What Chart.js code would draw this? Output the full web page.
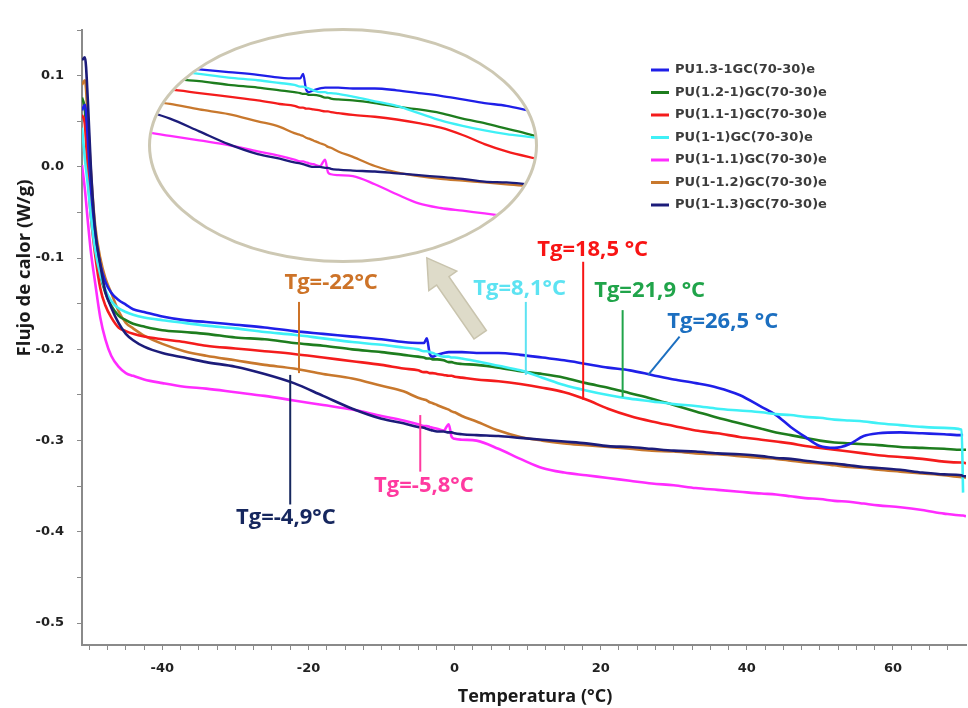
<!DOCTYPE html>
<html>
<head>
<meta charset="utf-8">
<script src="https://cdn.jsdelivr.net/npm/chart.js@4.4.1/dist/chart.umd.min.js"></script>
<style>
  html, body { margin: 0; padding: 0; background: #fff; }
  #wrap { position: relative; width: 968px; height: 708px; }
  #inset {
    position: absolute; left: 148px; top: 28px; width: 390px; height: 235px;
    border: 3px solid #cdc8b3; border-radius: 50%; overflow: hidden;
    box-sizing: border-box; background: #fff;
  }
</style>
</head>
<body>
<div id="wrap">
  <canvas id="chart" width="968" height="708"></canvas>
  <div id="inset"><canvas id="zoom" width="384" height="229"></canvas></div>
</div>
<script>
// temperature grid (°C) shared by every curve
const temps = [-51, -50.6, -50.2, -49.8, -49.2, -48.5, -47.8, -47, -46, -45, -44, -42.5, -40, -37, -34,
    -30, -26, -22, -18, -14, -10, -7, -5, -4.2, -3.8, -3.4, -3, -2.4, -1.5, -0.8, -0.4, 0, 1, 3, 6, 9,
    12, 15, 18, 21, 24, 27, 30, 33, 36, 39, 42, 44, 46, 48, 50, 52, 54, 56, 58, 61, 64, 67, 69.4, 69.6, 70];

// heat flow (W/g)
const blueHF = [0.062, 0.068, 0.030, -0.020, -0.074, -0.107, -0.126, -0.138, -0.146, -0.151, -0.156, -0.159,
    -0.164, -0.168, -0.170, -0.173, -0.176, -0.180, -0.183, -0.186, -0.189, -0.192, -0.193, -0.193, -0.188,
    -0.205, -0.208, -0.206, -0.204, -0.203, -0.203, -0.203, -0.203, -0.204, -0.204, -0.206, -0.209, -0.212,
    -0.216, -0.220, -0.223, -0.228, -0.233, -0.237, -0.242, -0.250, -0.263, -0.272, -0.285, -0.296, -0.306,
    -0.308, -0.304, -0.295, -0.292, -0.291, -0.292, -0.293, -0.294, -0.294, null];
const greenHF = [0.076, 0.062, 0.008, -0.036, -0.085, -0.118, -0.138, -0.152, -0.163, -0.168, -0.172, -0.175,
    -0.179, -0.181, -0.183, -0.187, -0.189, -0.193, -0.196, -0.200, -0.203, -0.206, -0.208, -0.209, -0.210,
    -0.210, -0.211, -0.211, -0.212, -0.214, -0.214, -0.215, -0.216, -0.217, -0.220, -0.224, -0.227, -0.231,
    -0.237, -0.242, -0.248, -0.254, -0.261, -0.268, -0.275, -0.281, -0.287, -0.291, -0.294, -0.297, -0.300,
    -0.302, -0.303, -0.304, -0.305, -0.307, -0.308, -0.309, -0.310, -0.310, -0.310];
const redHF = [0.057, 0.046, -0.009, -0.053, -0.096, -0.133, -0.152, -0.165, -0.176, -0.180, -0.183, -0.186,
    -0.189, -0.192, -0.196, -0.199, -0.202, -0.205, -0.209, -0.213, -0.217, -0.221, -0.223, -0.225, -0.225,
    -0.226, -0.226, -0.227, -0.228, -0.229, -0.229, -0.230, -0.231, -0.233, -0.235, -0.238, -0.242, -0.247,
    -0.255, -0.265, -0.273, -0.279, -0.284, -0.289, -0.292, -0.296, -0.299, -0.301, -0.303, -0.306, -0.308,
    -0.310, -0.312, -0.314, -0.316, -0.318, -0.320, -0.323, -0.324, -0.324, -0.325];
const cyanHF = [0.043, 0.008, -0.020, -0.053, -0.091, -0.118, -0.135, -0.147, -0.155, -0.159, -0.162, -0.165,
    -0.168, -0.171, -0.174, -0.177, -0.181, -0.184, -0.188, -0.192, -0.195, -0.198, -0.200, -0.202, -0.202,
    -0.203, -0.204, -0.206, -0.208, -0.208, -0.209, -0.209, -0.210, -0.213, -0.218, -0.223, -0.231, -0.239,
    -0.245, -0.250, -0.254, -0.257, -0.260, -0.262, -0.265, -0.267, -0.269, -0.271, -0.272, -0.274, -0.275,
    -0.277, -0.278, -0.279, -0.281, -0.283, -0.285, -0.286, -0.288, -0.357, null];
const magentaHF = [0.002, -0.025, -0.060, -0.092, -0.127, -0.165, -0.189, -0.207, -0.219, -0.226, -0.229, -0.233,
    -0.237, -0.241, -0.243, -0.247, -0.251, -0.256, -0.261, -0.266, -0.273, -0.278, -0.282, -0.284, -0.284,
    -0.285, -0.286, -0.287, -0.289, -0.282, -0.296, -0.298, -0.299, -0.300, -0.309, -0.320, -0.330, -0.335,
    -0.338, -0.341, -0.344, -0.347, -0.349, -0.352, -0.354, -0.356, -0.358, -0.359, -0.361, -0.363, -0.364,
    -0.366, -0.367, -0.369, -0.371, -0.373, -0.376, -0.380, -0.382, -0.382, -0.383];
const orangeHF = [0.090, 0.095, 0.051, -0.003, -0.064, -0.100, -0.122, -0.138, -0.158, -0.171, -0.177, -0.185,
    -0.194, -0.202, -0.207, -0.212, -0.217, -0.221, -0.227, -0.232, -0.240, -0.246, -0.253, -0.255, -0.256,
    -0.258, -0.259, -0.261, -0.264, -0.266, -0.268, -0.269, -0.273, -0.279, -0.289, -0.296, -0.300, -0.303,
    -0.305, -0.307, -0.309, -0.311, -0.312, -0.314, -0.315, -0.317, -0.319, -0.320, -0.322, -0.324, -0.325,
    -0.327, -0.329, -0.330, -0.332, -0.334, -0.336, -0.338, -0.340, -0.340, -0.341];
const navyHF = [0.117, 0.120, 0.073, 0.002, -0.069, -0.107, -0.137, -0.154, -0.171, -0.183, -0.190, -0.197,
    -0.204, -0.209, -0.214, -0.219, -0.227, -0.237, -0.251, -0.265, -0.276, -0.281, -0.285, -0.286, -0.287,
    -0.288, -0.289, -0.290, -0.290, -0.291, -0.291, -0.292, -0.293, -0.294, -0.295, -0.297, -0.299, -0.301,
    -0.303, -0.306, -0.307, -0.309, -0.311, -0.312, -0.314, -0.315, -0.317, -0.319, -0.320, -0.322, -0.324,
    -0.325, -0.327, -0.329, -0.330, -0.332, -0.335, -0.337, -0.338, -0.339, -0.339];

const seriesNames = ['PU1.3-1GC(70-30)e', 'PU(1.2-1)GC(70-30)e', 'PU(1.1-1)GC(70-30)e', 'PU(1-1)GC(70-30)e',
    'PU(1-1.1)GC(70-30)e', 'PU(1-1.2)GC(70-30)e', 'PU(1-1.3)GC(70-30)e'];
const seriesValues = [blueHF, greenHF, redHF, cyanHF, magentaHF, orangeHF, navyHF];
const seriesColors = ['#1f1fe8', '#1e7d1e', '#f41c1c', '#3ff0f6', '#ff2cff', '#c8782d', '#1c1c7a'];
const drawOrder = [3, 6, 5, 2, 4, 7, 1];

const xTickLabels = [-40, -20, 0, 20, 40, 60];
const yTickLabels = [0.1, 0.0, -0.1, -0.2, -0.3, -0.4, -0.5];

// Tg call-outs, placed in data units
const tgNotes = [
    {text: 'Tg=-22°C', color: '#cd7328', from: [-21.3, -0.148], to: [-21.3, -0.226], at: [-16.9, -0.127]},
    {text: 'Tg=-4,9°C', color: '#16275e', from: [-22.5, -0.228], to: [-22.5, -0.370], at: [-23.1, -0.384]},
    {text: 'Tg=-5,8°C', color: '#ff3aa0', from: [-4.7, -0.272], to: [-4.7, -0.334], at: [-4.2, -0.350]},
    {text: 'Tg=8,1°C', color: '#5de3f2', from: [9.75, -0.148], to: [9.75, -0.228], at: [8.9, -0.134]},
    {text: 'Tg=18,5 °C', color: '#f81414', from: [17.6, -0.104], to: [17.6, -0.255], at: [18.9, -0.091]},
    {text: 'Tg=21,9 °C', color: '#20a44a', from: [23.0, -0.157], to: [23.0, -0.252], at: [26.7, -0.136]},
    {text: 'Tg=26,5 °C', color: '#1c6fc0', from: [30.8, -0.186], to: [26.5, -0.228], at: [36.7, -0.170]}
];
const arrowTail = [3.5, -0.184];
const arrowTip = [-3.8, -0.0997];

function buildDatasets(width) {
    return seriesNames.map((name, i) => ({
        label: name,
        data: temps.map((t, k) => ({x: t, y: seriesValues[i][k]})),
        showLine: true,
        borderColor: seriesColors[i],
        backgroundColor: seriesColors[i],
        borderWidth: width,
        pointRadius: 0,
        cubicInterpolationMode: 'monotone',
        order: drawOrder[i]
    }));
}

const notesPlugin = {
    id: 'notes',
    afterDatasetsDraw(chart) {
        const {ctx, scales: {x, y}} = chart;
        ctx.save();

        // big arrow pointing at the zoomed view
        const tx = x.getPixelForValue(arrowTail[0]), ty = y.getPixelForValue(arrowTail[1]);
        const px = x.getPixelForValue(arrowTip[0]), py = y.getPixelForValue(arrowTip[1]);
        const len = Math.hypot(px - tx, py - ty);
        const ux = (px - tx) / len, uy = (py - ty) / len;
        const nx = -uy, ny = ux;
        const sh = 7.5, hh = 17, hl = 28;
        const bx = px - ux * hl, by = py - uy * hl;
        ctx.beginPath();
        ctx.moveTo(tx + nx * sh, ty + ny * sh);
        ctx.lineTo(bx + nx * sh, by + ny * sh);
        ctx.lineTo(bx + nx * hh, by + ny * hh);
        ctx.lineTo(px, py);
        ctx.lineTo(bx - nx * hh, by - ny * hh);
        ctx.lineTo(bx - nx * sh, by - ny * sh);
        ctx.lineTo(tx - nx * sh, ty - ny * sh);
        ctx.closePath();
        ctx.fillStyle = '#dedbc9';
        ctx.strokeStyle = '#c9c4ae';
        ctx.lineWidth = 1.5;
        ctx.fill();
        ctx.stroke();

        tgNotes.forEach(n => {
            ctx.strokeStyle = n.color;
            ctx.lineWidth = 2;
            ctx.beginPath();
            ctx.moveTo(x.getPixelForValue(n.from[0]), y.getPixelForValue(n.from[1]));
            ctx.lineTo(x.getPixelForValue(n.to[0]), y.getPixelForValue(n.to[1]));
            ctx.stroke();
            ctx.fillStyle = n.color;
            ctx.font = 'bold 22px "Open Sans"';
            ctx.textAlign = 'center';
            ctx.textBaseline = 'middle';
            ctx.fillText(n.text, x.getPixelForValue(n.at[0]), y.getPixelForValue(n.at[1]));
        });
        ctx.restore();
    },
    afterDraw(chart) {
        const ctx = chart.ctx;
        ctx.save();
        // legend
        ctx.font = 'bold 13px "DejaVu Sans"';
        ctx.textAlign = 'left';
        ctx.textBaseline = 'middle';
        seriesNames.forEach((name, i) => {
            const ly = 70 + i * 22.5;
            ctx.strokeStyle = seriesColors[i];
            ctx.lineWidth = 3;
            ctx.beginPath();
            ctx.moveTo(651, ly);
            ctx.lineTo(669, ly);
            ctx.stroke();
            ctx.fillStyle = '#3c3c3c';
            ctx.fillText(name, 675, ly);
        });
        // axis titles
        ctx.fillStyle = '#1a1a1a';
        ctx.textAlign = 'center';
        ctx.font = 'bold 18px "Open Sans"';
        ctx.fillText('Temperatura (°C)', 535, 697);
        ctx.translate(25, 268);
        ctx.rotate(-Math.PI / 2);
        ctx.font = 'bold 18.5px "Open Sans"';
        ctx.fillText('Flujo de calor (W/g)', 0, 0);
        ctx.restore();
    }
};

const xTicks = [];
for (let v = -50; v <= 67.5; v += 2.5) xTicks.push(v);
const yTicks = [];
for (let i = 0; i <= 13; i++) yTicks.push(Math.round((-0.5 + i * 0.05) * 100) / 100);

const tickFont = {family: 'DejaVu Sans', size: 13, weight: 'bold'};

new Chart(document.getElementById('chart'), {
    type: 'scatter',
    data: {datasets: buildDatasets(2.6)},
    options: {
        responsive: false,
        animation: false,
        events: [],
        layout: {padding: {top: 30, right: 2, left: 0, bottom: 0}},
        plugins: {legend: {display: false}, tooltip: {enabled: false}},
        scales: {
            x: {
                type: 'linear',
                min: -51,
                max: 70,
                afterBuildTicks: axis => { axis.ticks = xTicks.map(v => ({value: v})); },
                afterFit: axis => { axis.height = 63; },
                ticks: {
                    autoSkip: false, maxRotation: 0, padding: 11, color: '#222', font: tickFont,
                    callback: v => xTickLabels.some(l => Math.abs(l - v) < 1e-6) ? String(v) : ''
                },
                grid: {drawOnChartArea: false, drawTicks: true, tickLength: 5, color: '#8a8a8a'},
                border: {display: true, color: '#8a8a8a', width: 2}
            },
            y: {
                type: 'linear',
                min: -0.524,
                max: 0.15,
                afterBuildTicks: axis => { axis.ticks = yTicks.map(v => ({value: v})); },
                afterFit: axis => { axis.width = 82; },
                ticks: {
                    autoSkip: false, padding: 13, color: '#222', font: tickFont,
                    callback: v => yTickLabels.some(l => Math.abs(l - v) < 1e-6) ? v.toFixed(1) : ''
                },
                grid: {drawOnChartArea: false, drawTicks: true, tickLength: 5, color: '#8a8a8a'},
                border: {display: true, color: '#8a8a8a', width: 2}
            }
        }
    },
    plugins: [notesPlugin]
});

// magnified view inside the ellipse
new Chart(document.getElementById('zoom'), {
    type: 'scatter',
    data: {datasets: buildDatasets(2.3)},
    options: {
        responsive: false,
        animation: false,
        events: [],
        layout: {padding: 0},
        plugins: {legend: {display: false}, tooltip: {enabled: false}},
        scales: {
            x: {display: false, min: -24.6, max: 27.9},
            y: {display: false, min: -0.392, max: -0.141}
        }
    }
});
</script>
</body>
</html>
